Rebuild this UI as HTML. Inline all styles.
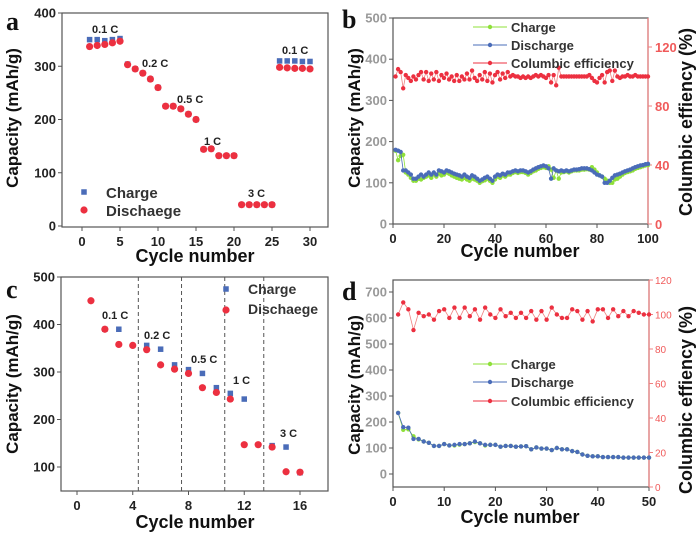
<!DOCTYPE html>
<html><head><meta charset="utf-8"><style>
body{margin:0;background:#fff;}
svg{display:block;font-family:"Liberation Sans",sans-serif;}
</style></head><body>
<svg id="fig" width="700" height="535" viewBox="0 0 700 535" xmlns="http://www.w3.org/2000/svg"></svg>
<script>
// ---- Panel a data ----
const aCycles=[1,2,3,4,5,6,7,8,9,10,11,12,13,14,15,16,17,18,19,20,21,22,23,24,25,26,27,28,29,30];
const aCharge=[350,350,348,350,352,304,295,287,276,260,225,225,220,210,200,144,145,132,132,132,40,40,40,40,40,310,310,310,309,309];
const aDischarge=[337,339,341,344,347,303,295,287,276,260,225,225,220,210,200,144,145,132,132,132,40,40,40,40,40,298,297,296,296,295];
const aXTicks=[0,5,10,15,20,25,30];
const aYTicks=[0,100,200,300,400];
// ---- Panel b data ----
const bDischarge=[180,178,175,130,130,125,120,110,110,115,120,115,120,125,120,125,120,130,128,125,130,128,125,122,120,118,115,120,115,112,118,115,110,105,108,112,115,110,105,115,120,118,122,120,125,125,128,130,128,130,130,128,125,128,132,135,138,140,142,140,135,110,135,130,128,130,128,130,128,130,132,132,133,135,135,135,133,130,125,120,118,115,100,100,105,112,118,120,122,125,128,130,132,135,138,140,142,143,145,146];
const bCharge=[178,155,165,168,125,120,112,105,105,110,108,112,115,118,112,120,115,122,118,120,125,122,118,115,112,110,108,112,108,105,110,108,105,100,104,106,110,105,100,108,115,112,118,115,120,120,124,126,124,126,126,124,120,124,128,130,134,136,138,136,140,132,112,130,110,125,126,128,125,128,130,130,130,132,132,133,132,138,132,125,118,115,110,105,100,100,108,110,115,120,124,126,128,130,134,136,138,140,142,143];
const bCE=[100,105,103,92,101,99,97,100,98,101,103,98,103,97,102,98,103,97,101,99,102,98,100,97,101,97,100,98,102,98,104,99,97,101,98,103,97,102,96,101,103,98,102,99,103,100,101,100,100,99,100,99,100,99,100,101,100,101,100,99,101,96,101,94,106,100,100,100,100,100,100,100,100,100,100,100,101,99,97,96,99,101,96,103,104,97,104,100,99,100,100,101,100,100,101,100,100,100,100,100];
const bXTicks=[0,20,40,60,80,100];
const bYTicks=[0,100,200,300,400,500];
const bY2Ticks=[0,40,80,120];
// ---- Panel c data ----
const cChargeX=[2,3,5,6,7,8,9,10,11,12,14,15,16];
const cCharge=[390,390,356,348,315,305,297,267,255,243,145,142,88];
const cDischargeX=[1,2,3,4,5,6,7,8,9,10,11,12,13,14,15,16];
const cDischarge=[450,390,358,356,347,315,306,297,267,257,243,147,147,142,90,89];
const cDividers=[4.4,7.5,10.6,13.4];
const cXTicks=[0,4,8,12,16];
const cYTicks=[100,200,300,400,500];
// ---- Panel d data ----
const dDischarge=[235,180,178,135,135,125,120,108,108,115,110,112,115,115,118,125,118,112,112,112,105,108,108,105,106,107,95,102,98,98,92,100,95,95,88,85,75,70,68,68,65,65,65,65,63,63,63,63,63,63];
const dCharge=[235,170,172,145,133,125,120,108,108,115,110,110,113,115,118,123,118,110,112,112,105,108,108,105,106,107,95,102,98,98,92,100,95,95,88,85,75,70,68,68,65,65,65,65,63,63,63,63,63,63];
const dCE=[100,107,103,91,101,99,100,97,102,103,98,104,98,104,99,103,97,104,100,98,103,99,101,98,101,98,102,97,102,97,104,100,98,98,103,102,97,102,96,103,103,98,103,99,102,99,102,101,100,100];
const dXTicks=[0,10,20,30,40,50];
const dYTicks=[0,100,200,300,400,500,600,700];
const dY2Ticks=[0,20,40,60,80,100,120];

const NS="http://www.w3.org/2000/svg";
const svg=document.getElementById('fig');
function mk(tag,attrs,parent,text){const e=document.createElementNS(NS,tag);for(const k in attrs)e.setAttribute(k,attrs[k]);if(text!==undefined)e.textContent=text;(parent||svg).appendChild(e);return e;}
function lin(d0,d1,r0,r1){return v=>r0+(v-d0)/(d1-d0)*(r1-r0);}

function axes(g,b,x,y,xt,yt,opt){
  const r=mk('rect',{x:b.l,y:b.t,width:b.r-b.l,height:b.b-b.t,fill:'none',stroke:'#555','stroke-width':1.2},g);
  
  xt.forEach(v=>{const px=x(v);
    mk('line',{x1:px,x2:px,y1:b.b,y2:b.b+4,stroke:'#555'},g);
    const t=mk('text',{x:px,y:b.b+19,'text-anchor':'middle','font-size':13,'font-weight':'bold',fill:'#222'},g,String(v));
    });
  yt.forEach(v=>{const py=y(v);
    mk('line',{x1:b.l-4,x2:b.l,y1:py,y2:py,stroke:'#555'},g);
    const t=mk('text',{x:b.l-6,y:py+4.5,'text-anchor':'end','font-size':13,'font-weight':'bold',fill:opt.ycol||'#222'},g,String(v));
    });
}
function title(g,txt,x,y,rot,size,name,col){
  const t=mk('text',{x:x,y:y,'text-anchor':'middle','font-size':size,'font-weight':'bold',fill:col||'#111',transform:rot?`rotate(-90 ${x} ${y})`:''},g,txt);
  
}
function letter(g,txt,x,y){const t=mk('text',{x:x,y:y,'font-size':26,'font-weight':'bold','font-family':'Liberation Serif, serif',fill:'#111'},g,txt);
  }
function lbl(g,txt,x,y){const t=mk('text',{x:x,y:y,'font-size':11,'font-weight':'bold',fill:'#222'},g,txt);
  }
function sq(g,px,py,s,c){const e=mk('rect',{x:px-s/2,y:py-s/2,width:s,height:s,fill:c},g);return e;}
function dot(g,px,py,r,c,name){const e=mk('circle',{cx:px,cy:py,r:r,fill:c},g);return e;}
function line(g,xs,ys,x,y,c,w,name){const p=mk('polyline',{points:xs.map((v,i)=>x(v)+','+y(ys[i])).join(' '),fill:'none',stroke:c,'stroke-width':w},g);}
const BLUE='#4a6cb8',RED='#ec3040',GREEN='#8fe03a',PINK='#f08080';

// ---- Panel a ----
(function(){
  const g=mk('g',{});
  const b={l:62,r:328,t:13,b:227};
  const x=lin(0,30,82,310),y=lin(0,400,226,13);
  axes(g,b,x,y,aXTicks,aYTicks,{});
  aCycles.forEach((c,i)=>{sq(g,x(c),y(aCharge[i]),5.5,BLUE);});
  aCycles.forEach((c,i)=>{dot(g,x(c),y(aDischarge[i]),3.6,RED,'discharge-point');});
  lbl(g,'0.1 C',92,33);lbl(g,'0.2 C',142,67);lbl(g,'0.5 C',177,103);lbl(g,'1 C',204,145);lbl(g,'3 C',248,197);lbl(g,'0.1 C',282,54);
  sq(g,84,192,5.5,BLUE);dot(g,84,210,3.6,RED,'legend-marker');
  const l1=mk('text',{x:106,y:198,'font-size':15,'font-weight':'bold',fill:'#333'},g,'Charge');
  const l2=mk('text',{x:106,y:216,'font-size':15,'font-weight':'bold',fill:'#333'},g,'Dischaege');
  title(g,'Capacity (mAh/g)',18,118,true,17,'y-axis-title');
  title(g,'Cycle number',195,262,false,18,'x-axis-title');
  letter(g,'a',6,30);
})();

// ---- Panel b ----
(function(){
  const g=mk('g',{});
  const b={l:393,r:648,t:18,b:224};
  const x=lin(0,100,393,648),y=lin(0,500,224,18),y2=lin(0,120,224,47);
  axes(g,b,x,y,bXTicks,bYTicks,{ycol:'#999'});
  mk('line',{x1:648,x2:648,y1:18,y2:224,stroke:PINK,'stroke-width':1.2},g);
  bY2Ticks.forEach(v=>{mk('line',{x1:648,x2:652,y1:y2(v),y2:y2(v),stroke:PINK},g);
    const t=mk('text',{x:655,y:y2(v)+5,'font-size':13,'font-weight':'bold',fill:'#f05a5a'},g,String(v));});
  const xs=bDischarge.map((_,i)=>i+1);
  line(g,xs,bCharge,x,y,GREEN,0.8,'charge-line');
  xs.forEach((c,i)=>dot(g,x(c),y(bCharge[i]),2.2,GREEN,'charge-point'));
  line(g,xs,bDischarge,x,y,BLUE,0.8,'discharge-line');
  xs.forEach((c,i)=>dot(g,x(c),y(bDischarge[i]),2.2,BLUE,'discharge-point'));
  line(g,xs,bCE,x,y2,PINK,0.8,'ce-line');
  xs.forEach((c,i)=>dot(g,x(c),y2(bCE[i]),2.2,RED,'ce-point'));
  [['Charge',27,GREEN],['Discharge',45,BLUE],['Columbic efficiency',63,RED]].forEach(([t,yy,c])=>{
    mk('line',{x1:473,x2:507,y1:yy,y2:yy,stroke:c,'stroke-width':1},g);dot(g,490,yy,2.2,c,'legend-marker');
    const e=mk('text',{x:511,y:yy+5,'font-size':13,'font-weight':'bold',fill:'#333'},g,t);});
  title(g,'Capacity (mAh/g)',360,118,true,17,'y-axis-title');
  title(g,'Columbic effiency (%)',692,122,true,18,'y2-axis-title');
  title(g,'Cycle number',520,257,false,18,'x-axis-title');
  letter(g,'b',342,28);
})();

// ---- Panel c ----
(function(){
  const g=mk('g',{});
  const b={l:61,r:328,t:277,b:491};
  const x=lin(0,16,77,300),y=lin(100,500,467,277);
  axes(g,b,x,y,cXTicks,cYTicks,{});
  cDividers.forEach(v=>{const d=mk('line',{x1:x(v),x2:x(v),y1:277,y2:491,stroke:'#555','stroke-dasharray':'4,3'},g);});
  cChargeX.forEach((c,i)=>sq(g,x(c),y(cCharge[i]),5.5,BLUE));
  cDischargeX.forEach((c,i)=>dot(g,x(c),y(cDischarge[i]),3.6,RED,'discharge-point'));
  lbl(g,'0.1 C',102,319);lbl(g,'0.2 C',144,339);lbl(g,'0.5 C',191,363);lbl(g,'1 C',233,384);lbl(g,'3 C',280,437);
  sq(g,226,289,5.5,BLUE);dot(g,226,310,3.6,RED,'legend-marker');
  const l1=mk('text',{x:248,y:294,'font-size':14,'font-weight':'bold',fill:'#333'},g,'Charge');
  const l2=mk('text',{x:248,y:314,'font-size':14,'font-weight':'bold',fill:'#333'},g,'Dischaege');
  title(g,'Capacity (mAh/g)',18,384,true,17,'y-axis-title');
  title(g,'Cycle number',195,528,false,18,'x-axis-title');
  letter(g,'c',6,298);
})();

// ---- Panel d ----
(function(){
  const g=mk('g',{});
  const b={l:393,r:649,t:280,b:487};
  const x=lin(0,50,393,649),y=lin(0,700,474,292),y2=lin(0,120,487,280);
  axes(g,b,x,y,dXTicks,dYTicks,{ycol:'#999'});
  mk('line',{x1:649,x2:649,y1:280,y2:487,stroke:PINK,'stroke-width':1.2},g);
  dY2Ticks.forEach(v=>{mk('line',{x1:649,x2:653,y1:y2(v),y2:y2(v),stroke:PINK},g);
    const t=mk('text',{x:655,y:y2(v)+4,'font-size':10,fill:'#f05a5a'},g,String(v));});
  const xs=dDischarge.map((_,i)=>i+1);
  line(g,xs,dCharge,x,y,GREEN,0.8,'charge-line');
  xs.forEach((c,i)=>dot(g,x(c),y(dCharge[i]),2.2,GREEN,'charge-point'));
  line(g,xs,dDischarge,x,y,BLUE,0.8,'discharge-line');
  xs.forEach((c,i)=>dot(g,x(c),y(dDischarge[i]),2.2,BLUE,'discharge-point'));
  line(g,xs,dCE,x,y2,PINK,0.8,'ce-line');
  xs.forEach((c,i)=>dot(g,x(c),y2(dCE[i]),2.2,RED,'ce-point'));
  [['Charge',364,GREEN],['Discharge',382,BLUE],['Columbic efficiency',401,RED]].forEach(([t,yy,c])=>{
    mk('line',{x1:473,x2:507,y1:yy,y2:yy,stroke:c,'stroke-width':1},g);dot(g,490,yy,2.2,c,'legend-marker');
    const e=mk('text',{x:511,y:yy+5,'font-size':13,'font-weight':'bold',fill:'#333'},g,t);});
  title(g,'Capacity (mAh/g)',360,385,true,17,'y-axis-title');
  title(g,'Columbic effiency (%)',692,400,true,18,'y2-axis-title');
  title(g,'Cycle number',520,523,false,18,'x-axis-title');
  letter(g,'d',342,300);
})();
</script>
</body></html>
